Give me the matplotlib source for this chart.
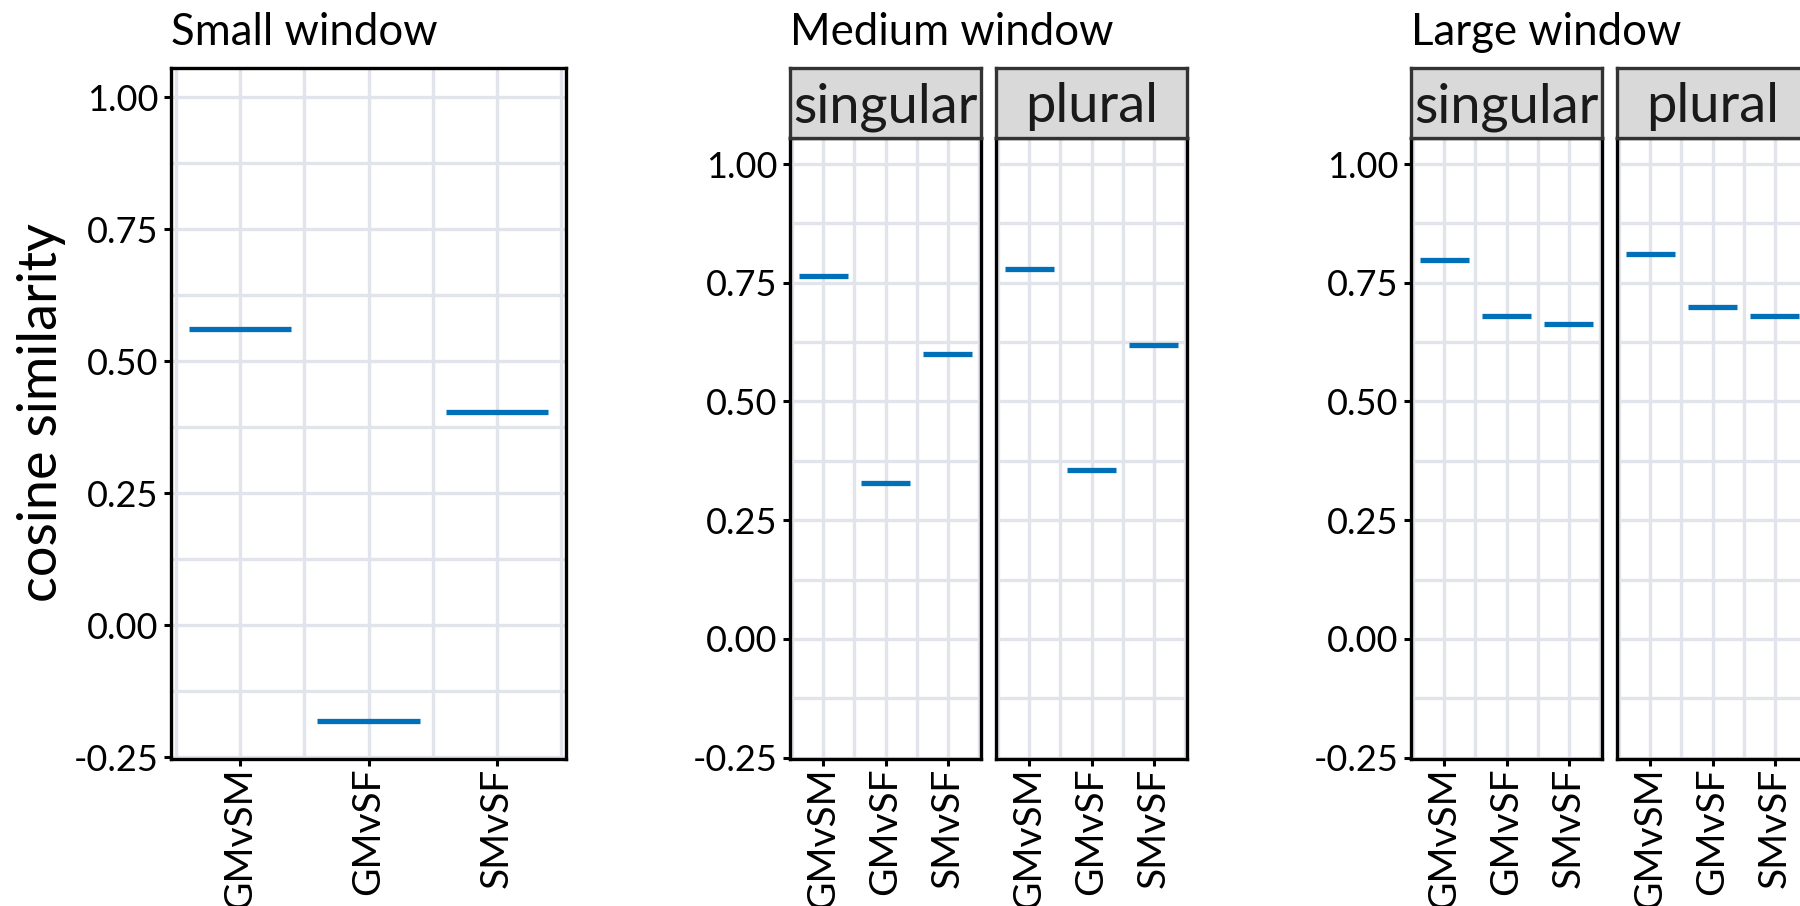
import numpy as np
import matplotlib.pyplot as plt

plt.rcParams['font.family'] = ['Lato', 'DejaVu Sans']
plt.rcParams['axes.unicode_minus'] = False

pairs = ['GMvSM', 'GMvSF', 'SMvSF']
small_vals = [0.561, -0.182, 0.403]
medium_singular = [0.765, 0.328, 0.601]
medium_plural = [0.779, 0.355, 0.620]
large_singular = [0.798, 0.680, 0.663]
large_plural = [0.811, 0.700, 0.680]
yticks = [-0.25, 0.0, 0.25, 0.50, 0.75, 1.00]

BLUE = '#0070B8'
GRID = '#E2E4EB'
W, H = 1800, 906

fig = plt.figure(figsize=(18, 9.06), dpi=100)


def px_axes(left, top, width, height):
    return fig.add_axes([left / W, 1 - (top + height) / H, width / W, height / H])


def panel(ax, vals, show_y):
    x = np.arange(1, len(pairs) + 1)
    ax.hlines(vals, x - 0.4, x + 0.4, color=BLUE, lw=3.8, zorder=3)
    ax.set_xlim(0.463, 3.537)
    ax.set_ylim(-0.253, 1.055)
    ax.set_xticks(x)
    ax.set_xticklabels(pairs, rotation=90)
    ax.set_xticks(np.arange(0.5, len(pairs) + 1), minor=True)
    ax.set_yticks(yticks)
    ax.set_yticklabels(['%.2f' % v for v in yticks])
    ax.set_yticks(np.arange(-0.125, 1.0, 0.25), minor=True)
    ax.grid(which='both', color=GRID, lw=2.4)
    ax.set_axisbelow(True)
    ax.tick_params(which='minor', length=0)
    ax.tick_params(which='major', length=5, width=2.2, pad=4, labelsize=26, colors='black')
    ax.tick_params(axis='x', labelsize=28, pad=1)
    if not show_y:
        ax.tick_params(axis='y', left=False, labelleft=False)
    for s in ax.spines.values():
        s.set_linewidth(2.4)
        s.set_color('black')


def strip(left, width, label):
    sa = px_axes(left, 68, width, 70)
    sa.set_facecolor('#D9D9D9')
    sa.set_xticks([])
    sa.set_yticks([])
    for s in sa.spines.values():
        s.set_linewidth(2.4)
        s.set_color('#333333')
    fig.text((left + width / 2) / W, 1 - 122 / H, label, ha='center', va='baseline',
             fontsize=39, color='#1A1A1A')


# small window, no facets
ax = px_axes(171, 68, 395, 691)
panel(ax, small_vals, True)
fig.text(171 / W, 1 - 45 / H, 'Small window', ha='left', va='baseline', fontsize=31.5)

# medium window
ax = px_axes(790, 138, 191, 621)
panel(ax, medium_singular, True)
ax = px_axes(996, 138, 191, 621)
panel(ax, medium_plural, False)
strip(790, 191, 'singular')
strip(996, 191, 'plural')
fig.text(790 / W, 1 - 45 / H, 'Medium window', ha='left', va='baseline', fontsize=31.5)

# large window (runs off the right edge)
ax = px_axes(1411, 138, 191, 621)
panel(ax, large_singular, True)
ax = px_axes(1617, 138, 191, 621)
panel(ax, large_plural, False)
strip(1411, 191, 'singular')
strip(1617, 191, 'plural')
fig.text(1411 / W, 1 - 45 / H, 'Large window', ha='left', va='baseline', fontsize=31.5)

fig.text(42 / W, 1 - 413 / H, 'cosine similarity', rotation=90, ha='center', va='center', fontsize=39)

fig.savefig('out.png', dpi=100)
